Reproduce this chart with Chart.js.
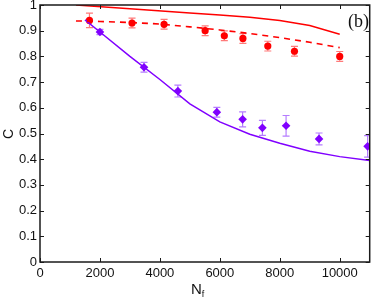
<!DOCTYPE html>
<html>
<head>
<meta charset="utf-8">
<script src="https://cdn.jsdelivr.net/npm/chart.js@4/dist/chart.umd.min.js"></script>
<style>
  body { margin: 0; background: #fff; }
  #wrap { width: 374px; height: 298px; }
</style>
</head>
<body>
<div id="wrap"><canvas id="chart"></canvas></div>
<script>
// --- data ---
const redX = [1650, 3070, 4140, 5510, 6150, 6770, 7600, 8490, 10000];
const redY = [0.94, 0.93, 0.925, 0.90, 0.88, 0.87, 0.84, 0.82, 0.80];
const redErr = [0.028, 0.019, 0.019, 0.019, 0.019, 0.019, 0.019, 0.019, 0.019];

const purpleX = [2000, 3470, 4600, 5900, 6760, 7420, 8210, 9310, 10930];
const purpleY = [0.895, 0.758, 0.665, 0.583, 0.555, 0.522, 0.530, 0.479, 0.450];
const purpleErr = [0.01, 0.019, 0.023, 0.019, 0.029, 0.029, 0.040, 0.023, 0.042];

// model curves
const solidX = [1200, 3000, 5000, 6000, 7000, 8000, 9000, 10000];
const solidY = [1.0, 0.985, 0.969, 0.961, 0.952, 0.940, 0.920, 0.886];
const dashX = [1200, 2000, 3000, 4000, 5000, 6000, 7000, 8000, 9000, 10000];
const dashY = [0.938, 0.936, 0.932, 0.926, 0.915, 0.903, 0.889, 0.873, 0.855, 0.834];
const fitX = [1500, 2000, 3000, 4000, 5000, 6000, 7000, 8000, 9000, 10000, 11000];
const fitY = [0.942, 0.895, 0.80, 0.71, 0.615, 0.545, 0.497, 0.462, 0.431, 0.41, 0.395];

const xTicks = [0, 2000, 4000, 6000, 8000, 10000];
const yTicks = [0, 0.1, 0.2, 0.3, 0.4, 0.5, 0.6, 0.7, 0.8, 0.9, 1];

const RED = "#ff0000";
const PURPLE = "#8000ff";

const pts = (xs, ys) => xs.map((x, i) => ({ x: x, y: ys[i] }));

// error bars, drawn under the markers
const errorBars = {
  id: "errorBars",
  beforeDatasetsDraw(chart) {
    const { ctx, scales: { x, y }, chartArea } = chart;
    const sets = [
      [redX, redY, redErr, "#ff7a7a"],
      [purpleX, purpleY, purpleErr, "#b57dff"]
    ];
    ctx.save();
    ctx.beginPath();
    ctx.rect(chartArea.left, chartArea.top, chartArea.width, chartArea.height);
    ctx.clip();
    ctx.lineWidth = 1.2;
    sets.forEach(([xs, ys, es, col]) => {
      ctx.strokeStyle = col;
      xs.forEach((v, i) => {
        const px = x.getPixelForValue(v);
        const top = y.getPixelForValue(ys[i] + es[i]);
        const bot = y.getPixelForValue(ys[i] - es[i]);
        ctx.beginPath();
        ctx.moveTo(px, top); ctx.lineTo(px, bot);
        ctx.moveTo(px - 3.5, top); ctx.lineTo(px + 3.5, top);
        ctx.moveTo(px - 3.5, bot); ctx.lineTo(px + 3.5, bot);
        ctx.stroke();
      });
    });
    ctx.restore();
  }
};

// frame with inward ticks, axis titles and panel label
const frame = {
  id: "frame",
  afterDraw(chart) {
    const { ctx, scales: { x, y }, chartArea: a } = chart;
    ctx.save();
    ctx.strokeStyle = "#1a1a1a";
    ctx.lineWidth = 1.5;
    ctx.strokeRect(a.left, a.top, a.right - a.left, a.bottom - a.top);
    ctx.lineWidth = 1;
    ctx.beginPath();
    xTicks.forEach(v => {
      const px = Math.round(x.getPixelForValue(v)) + 0.5;
      ctx.moveTo(px, a.bottom); ctx.lineTo(px, a.bottom - 4);
      ctx.moveTo(px, a.top); ctx.lineTo(px, a.top + 4);
    });
    yTicks.forEach(v => {
      const py = Math.round(y.getPixelForValue(v)) + 0.5;
      ctx.moveTo(a.left, py); ctx.lineTo(a.left + 4, py);
      ctx.moveTo(a.right, py); ctx.lineTo(a.right - 4, py);
    });
    ctx.stroke();

    ctx.fillStyle = "#111";
    // y title
    ctx.save();
    ctx.translate(9, 134);
    ctx.rotate(-Math.PI / 2);
    ctx.font = "14px 'Liberation Sans', Arial, sans-serif";
    ctx.textAlign = "center";
    ctx.textBaseline = "middle";
    ctx.fillText("C", 0, 0);
    ctx.restore();

    // x title N_f
    ctx.textBaseline = "alphabetic";
    ctx.textAlign = "left";
    ctx.font = "15px 'Liberation Sans', Arial, sans-serif";
    ctx.fillText("N", 191, 294);
    const nw = ctx.measureText("N").width;
    ctx.font = "9px 'Liberation Sans', Arial, sans-serif";
    ctx.fillText("f", 191 + nw, 297);

    // panel label
    ctx.font = "18px 'Liberation Serif', 'Times New Roman', serif";
    ctx.textAlign = "right";
    ctx.fillText("(b)", 369, 27);
    ctx.restore();
  }
};

new Chart(document.getElementById("chart"), {
  type: "scatter",
  data: {
    datasets: [
      { data: pts(solidX, solidY), showLine: true, borderColor: RED, borderWidth: 1.5, pointRadius: 0, tension: 0 },
      { data: pts(dashX, dashY), showLine: true, borderColor: RED, borderWidth: 1.6, borderDash: [6, 5], pointRadius: 0, tension: 0 },
      { data: pts(fitX, fitY), showLine: true, borderColor: PURPLE, borderWidth: 1.5, pointRadius: 0, tension: 0 },
      { data: pts(redX, redY), showLine: false, pointStyle: "circle", pointRadius: 3.6, backgroundColor: RED, borderColor: RED, borderWidth: 0 },
      { data: pts(purpleX, purpleY), showLine: false, pointStyle: "rectRot", pointRadius: 4.3, backgroundColor: PURPLE, borderColor: PURPLE, borderWidth: 0 }
    ]
  },
  options: {
    responsive: true,
    maintainAspectRatio: false,
    animation: false,
    layout: { padding: { left: 0, top: 5, right: 1, bottom: 0 } },
    plugins: { legend: { display: false }, tooltip: { enabled: false } },
    scales: {
      x: {
        type: "linear",
        min: 0,
        max: 11000,
        grid: { display: false, drawTicks: false },
        border: { display: false },
        afterBuildTicks: s => { s.ticks = xTicks.map(v => ({ value: v })); },
        afterFit: s => { s.height = 36; s.paddingLeft = 0; s.paddingRight = 0; },
        ticks: {
          padding: 4,
          color: "#111",
          font: { family: "'Liberation Sans', Arial, sans-serif", size: 13 },
          maxRotation: 0,
          callback: v => String(v)
        }
      },
      y: {
        type: "linear",
        min: 0,
        max: 1,
        grid: { display: false, drawTicks: false },
        border: { display: false },
        afterBuildTicks: s => { s.ticks = yTicks.map(v => ({ value: v })); },
        afterFit: s => { s.width = 40; s.paddingTop = 0; s.paddingBottom = 0; },
        ticks: {
          padding: 3,
          color: "#111",
          font: { family: "'Liberation Sans', Arial, sans-serif", size: 13 },
          callback: v => (v === 0 || v === 1) ? String(v) : v.toFixed(1)
        }
      }
    }
  },
  plugins: [errorBars, frame]
});
</script>
</body>
</html>
